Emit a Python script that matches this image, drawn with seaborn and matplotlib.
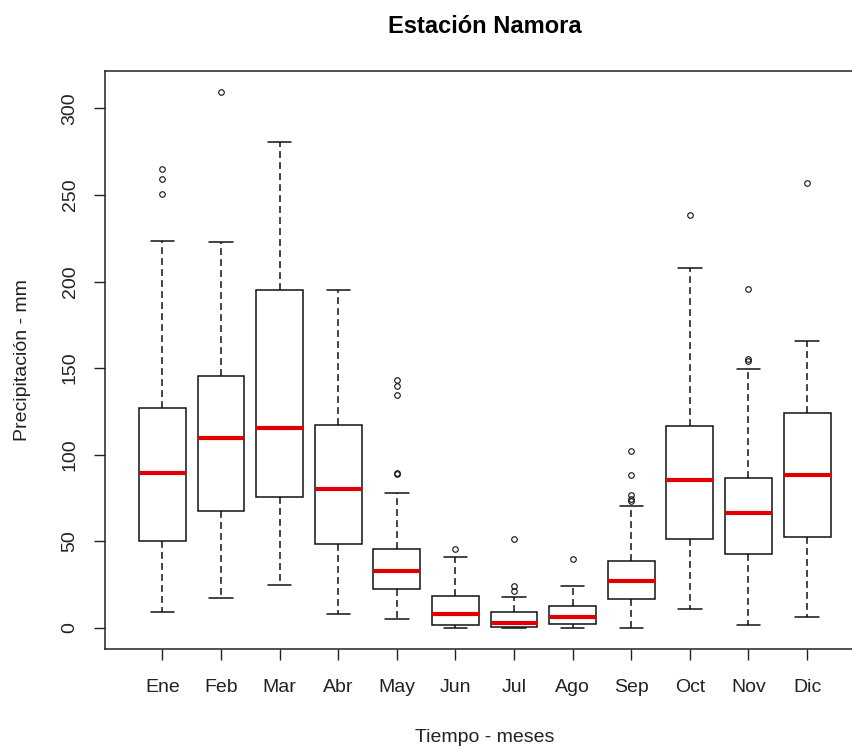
import matplotlib
matplotlib.use("Agg")
import matplotlib.pyplot as plt
import seaborn as sns
import pandas as pd

# Resumen (mm): bigote inf, Q1, mediana, Q3, bigote sup, atipicos
meses = ['Ene', 'Feb', 'Mar', 'Abr', 'May', 'Jun',
         'Jul', 'Ago', 'Sep', 'Oct', 'Nov', 'Dic']
bigote_inf = [9.4, 17.5, 24.8, 8.1, 5.0, 0.0, 0.0, 0.0, 0.0, 11.0, 1.4, 6.0]
q1 = [50.4, 67.7, 75.8, 48.6, 22.7, 1.4, 0.6, 2.1, 16.7, 51.5, 42.9, 52.5]
mediana = [89.6, 109.4, 115.2, 80.0, 32.9, 8.1, 2.9, 6.5, 26.9, 85.2, 66.3, 88.3]
q3 = [126.8, 145.6, 195.2, 117.1, 45.8, 18.3, 8.9, 12.5, 38.5, 116.5, 86.7, 123.9]
bigote_sup = [223.7, 222.9, 280.6, 195.2, 78.1, 41.0, 18.0, 24.0, 70.6, 207.7, 149.4, 165.4]
atipicos = [
    [250.3, 259.1, 264.8],
    [309.2],
    [],
    [],
    [88.8, 89.6, 134.4, 139.6, 142.9],
    [45.6],
    [21.5, 24.4, 51.3],
    [39.8],
    [73.4, 74.2, 76.9, 88.5, 102.3],
    [238.7],
    [154.2, 155.0, 195.8],
    [256.9],
]

# muestra por mes (4k+1 valores) cuyos cuartiles caen exactamente en los leidos
k = 6
filas = []
for i, mes in enumerate(meses):
    arriba = [q3[i]] * (k - 1 - len(atipicos[i])) + [bigote_sup[i]] + atipicos[i]
    valores = ([bigote_inf[i]] + [q1[i]] * k + [mediana[i]] * k
               + [q3[i]] * k + arriba)
    filas += [(mes, v) for v in valores]
df = pd.DataFrame(filas, columns=['mes', 'precip'])

sns.set_style('white')
plt.rcParams['font.family'] = ['Liberation Sans', 'DejaVu Sans']

fig = plt.figure(figsize=(8.53, 7.48), dpi=100)
ax = fig.add_axes([105 / 853, 1 - 649.3 / 748, 759.5 / 853, 578.3 / 748])

sns.boxplot(data=df, x='mes', y='precip', order=meses, ax=ax,
            color='white', linecolor='#111111', linewidth=1.1, width=0.8,
            whiskerprops=dict(linestyle=(0, (4.5, 2.7))),
            medianprops=dict(color='#e00000', linewidth=3, solid_capstyle='butt'),
            flierprops=dict(marker='o', markersize=4, markerfacecolor='none',
                            markeredgecolor='#111111', markeredgewidth=0.8))

ax.set_xlim(-0.98, 11.98)
ax.set_ylim(-12.4, 321.6)
ax.set_yticks(range(0, 301, 50))

for s in ax.spines.values():
    s.set_color('#222222')
    s.set_linewidth(1.1)

ax.tick_params(axis='both', bottom=True, left=True, length=8, width=1,
               direction='out', color='#222222', labelsize=14, labelcolor='#222222')
ax.tick_params(axis='x', pad=13.5)
ax.tick_params(axis='y', pad=11, labelrotation=90)
for t in ax.get_yticklabels():
    t.set_va('center')

ax.set_title('Estación Namora', fontsize=17, fontweight='bold', pad=27.5, color='black')
ax.set_xlabel('Tiempo - meses', fontsize=14, color='#222222')
ax.set_ylabel('Precipitación - mm', fontsize=14, color='#222222')
ax.xaxis.set_label_coords(0.5, -0.137)
ax.yaxis.set_label_coords(-0.097, 0.5)

fig.savefig('out.png', dpi=100)
plt.close(fig)
